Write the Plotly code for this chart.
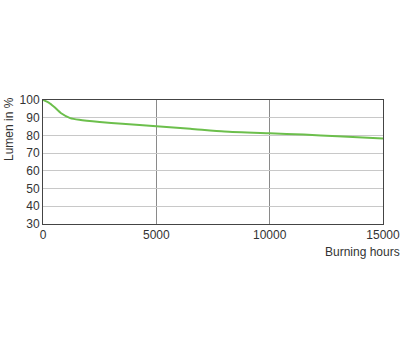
import plotly.graph_objects as go

hours = [0, 250, 500, 800, 1200, 1600, 2500, 3500, 5000, 6500, 8000, 10000, 11500, 13000, 15000]
lumen = [100, 98.5, 96, 92.5, 89.8, 88.8, 87.6, 86.6, 85.2, 83.8, 82.2, 81.2, 80.5, 79.5, 78.2]

x_ticks = [0, 5000, 10000, 15000]
y_ticks = [30, 40, 50, 60, 70, 80, 90, 100]

fig = go.Figure()
fig.add_trace(go.Scatter(x=hours, y=lumen, mode="lines",
                         line=dict(color="#6cbf4c", width=2, shape="spline", smoothing=0.6),
                         hoverinfo="skip"))

font = dict(family="Liberation Sans, Arial, sans-serif", size=12, color="#333333")

fig.update_layout(
    width=400, height=350,
    margin=dict(l=43, r=17, t=100, b=126),
    paper_bgcolor="white", plot_bgcolor="white",
    showlegend=False,
    font=font,
    xaxis=dict(range=[0, 15000], tickvals=x_ticks, ticktext=[str(v) for v in x_ticks],
               showgrid=True, gridcolor="#8a8a8a", gridwidth=1,
               showline=True, linecolor="#444444", linewidth=1, mirror=True,
               ticks="", zeroline=False, tickfont=font, automargin=False,
               ticklabeloverflow="allow"),
    yaxis=dict(range=[30, 100], tickvals=y_ticks,
               showgrid=True, gridcolor="#c8c8c8", gridwidth=1,
               showline=True, linecolor="#444444", linewidth=1, mirror=True,
               ticks="", zeroline=False, tickfont=font, automargin=False,
               ticklabeloverflow="allow"),
    annotations=[
        dict(text="Burning hours", xref="paper", yref="paper",
             x=1.055, y=-0.15, xanchor="right", yanchor="top",
             showarrow=False, font=font),
        dict(text="Lumen in %", xref="paper", yref="paper", textangle=-90,
             x=-0.1, y=1.04, xanchor="center", yanchor="top",
             showarrow=False, font=font),
    ],
)

fig.write_html("out.html")
